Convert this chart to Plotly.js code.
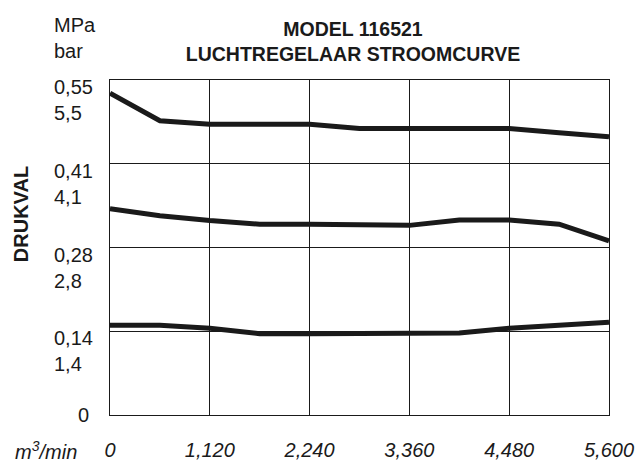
<!DOCTYPE html>
<html>
<head>
<meta charset="utf-8">
<script src="https://cdn.plot.ly/plotly-3.0.1.min.js"></script>
<style>html,body{margin:0;padding:0;background:#fff}#chart{width:639px;height:462px}</style>
</head>
<body>
<div id="chart"></div>
<script>
// Flow (m3/min) sample positions
var flow = [0, 560, 1120, 1680, 2240, 2800, 3360, 3920, 4480, 5040, 5600];
// Pressure curves (bar)
var curveHigh = [5.38, 4.92, 4.86, 4.86, 4.86, 4.79, 4.79, 4.79, 4.79, 4.72, 4.65];
var curveMid  = [3.45, 3.33, 3.25, 3.19, 3.19, 3.18, 3.17, 3.26, 3.26, 3.19, 2.91];
var curveLow  = [1.50, 1.50, 1.45, 1.36, 1.36, 1.37, 1.37, 1.37, 1.45, 1.51, 1.55];

// X ticks
var xTickVals = [0, 1120, 2240, 3360, 4480, 5600];
var xTickText = ['0', '1,120', '2,240', '3,360', '4,480', '5,600'];
// Y ticks (bar grid) and labels (MPa / bar)
var yTickVals = [0, 1.4, 2.8, 4.2, 5.6];
var yTickMPa = ['0', '0,14', '0,28', '0,41', '0,55'];
var yTickBar = ['', '1,4', '2,8', '4,1', '5,5'];

var titleText = 'MODEL 116521<br>LUCHTREGELAAR STROOMCURVE';
var yTitle = 'DRUKVAL';
var xUnit = 'm<sup>3</sup>/min';
var yUnits = 'MPa<br>bar';

var FONT = 'Arial, "Liberation Sans", Helvetica, sans-serif';
var INK = '#1a1a1a';

function lineTrace(y) {
  return {x: flow, y: y, type: 'scatter', mode: 'lines',
          line: {color: INK, width: 5}, hoverinfo: 'skip', showlegend: false};
}

var annotations = [];
yTickVals.forEach(function (v, i) {
  if (i === 0) {
    annotations.push({xref: 'paper', yref: 'y', x: -0.038, y: v, xanchor: 'right', yanchor: 'middle',
      text: yTickMPa[i], showarrow: false, font: {family: FONT, size: 20, color: INK}});
  } else {
    annotations.push({xref: 'paper', yref: 'y', x: -0.116, y: v, xanchor: 'left', yanchor: 'middle',
      yshift: -20, align: 'left', text: yTickMPa[i] + '<br>' + yTickBar[i], showarrow: false,
      font: {family: FONT, size: 20, color: INK}});
  }
});
annotations.push({xref: 'paper', yref: 'paper', x: -0.116, y: 1, xanchor: 'left', yanchor: 'middle',
  yshift: 42, align: 'left', text: yUnits, showarrow: false, font: {family: FONT, size: 20, color: INK}});
annotations.push({xref: 'paper', yref: 'paper', x: -0.194, y: 0, xanchor: 'left', yanchor: 'middle',
  yshift: -35, text: '<i>' + xUnit + '</i>', showarrow: false, font: {family: FONT, size: 20, color: INK}});
annotations.push({xref: 'paper', yref: 'paper', x: -0.178, y: 0.6, xanchor: 'center', yanchor: 'middle',
  textangle: -90, text: '<b>' + yTitle + '</b>', showarrow: false, font: {family: FONT, size: 20, color: INK}});

var layout = {
  width: 639, height: 462,
  margin: {l: 110, r: 30, t: 80, b: 47, pad: 0},
  paper_bgcolor: '#ffffff', plot_bgcolor: '#ffffff',
  showlegend: false,
  font: {family: FONT, color: INK},
  title: {text: '<b>' + titleText + '</b>', font: {family: FONT, size: 19.5, color: INK},
          xref: 'container', yref: 'container', x: 0.5524, y: 0.922, xanchor: 'center', yanchor: 'middle'},
  xaxis: {range: [0, 5600], tickvals: xTickVals, ticktext: xTickText, ticks: '',
          tickfont: {family: FONT, size: 20, color: INK, style: 'italic'}, ticklabelstandoff: 17,
          showgrid: true, gridcolor: INK, gridwidth: 1, zeroline: false,
          showline: true, linecolor: INK, linewidth: 1, mirror: true, fixedrange: true},
  yaxis: {range: [0, 5.6], tickvals: yTickVals, showticklabels: false, ticks: '',
          showgrid: true, gridcolor: INK, gridwidth: 1, zeroline: false,
          showline: true, linecolor: INK, linewidth: 1, mirror: true, fixedrange: true},
  annotations: annotations
};

Plotly.newPlot('chart', [lineTrace(curveHigh), lineTrace(curveMid), lineTrace(curveLow)], layout,
  {staticPlot: true, displayModeBar: false});
</script>
</body>
</html>
